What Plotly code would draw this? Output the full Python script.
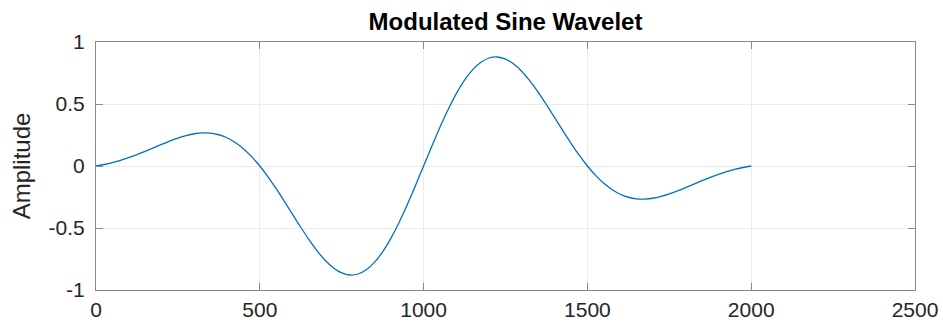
import plotly.graph_objects as go

# Sample positions and amplitudes
sample_x = [0, 25, 50, 75, 100, 125, 150, 175, 200, 225,
            250, 275, 300, 325, 350, 375, 400, 425, 450, 475,
            500, 525, 550, 575, 600, 625, 650, 675, 700, 725,
            750, 775, 800, 825, 850, 875, 900, 925, 950, 975,
            1000, 1025, 1050, 1075, 1100, 1125, 1150, 1175, 1200, 1225,
            1250, 1275, 1300, 1325, 1350, 1375, 1400, 1425, 1450, 1475,
            1500, 1525, 1550, 1575, 1600, 1625, 1650, 1675, 1700, 1725,
            1750, 1775, 1800, 1825, 1850, 1875, 1900, 1925, 1950, 1975, 2000]
amplitude = [0.0, 0.012, 0.028, 0.046, 0.068, 0.092, 0.118, 0.146, 0.174, 0.201,
             0.225, 0.245, 0.260, 0.267, 0.265, 0.252, 0.228, 0.190, 0.140, 0.076,
             0.0, -0.087, -0.183, -0.285, -0.390, -0.494, -0.594, -0.684, -0.762, -0.822,
             -0.862, -0.879, -0.871, -0.837, -0.777, -0.692, -0.584, -0.456, -0.313, -0.159,
             0.0, 0.159, 0.313, 0.456, 0.584, 0.692, 0.777, 0.837, 0.871, 0.879,
             0.862, 0.822, 0.762, 0.684, 0.594, 0.494, 0.390, 0.285, 0.183, 0.087,
             0.0, -0.076, -0.140, -0.190, -0.228, -0.252, -0.265, -0.267, -0.260, -0.245,
             -0.225, -0.201, -0.174, -0.146, -0.118, -0.092, -0.068, -0.046, -0.028, -0.012, 0.0]

x_tick_vals = [0, 500, 1000, 1500, 2000, 2500]
x_tick_text = ["0", "500", "1000", "1500", "2000", "2500"]
y_tick_vals = [-1, -0.5, 0, 0.5, 1]
y_tick_text = ["-1", "-0.5", "0", "0.5", "1"]

title_text = "Modulated Sine Wavelet"
y_label = "Amplitude"

FONT = "Liberation Sans, Arial, sans-serif"
AXIS_COLOR = "#8a8a8a"
TEXT_COLOR = "#262626"
GRID_COLOR = "#ebebeb"

fig = go.Figure()
fig.add_trace(go.Scatter(
    x=sample_x, y=amplitude, mode="lines",
    line=dict(color="#0072BD", width=1.3, shape="spline", smoothing=0.6),
    showlegend=False, hoverinfo="skip",
))

axis_common = dict(
    showline=True, linecolor=AXIS_COLOR, linewidth=1,
    mirror="ticks", ticks="inside", ticklen=7, tickcolor=AXIS_COLOR, tickwidth=1,
    showgrid=True, gridcolor=GRID_COLOR, gridwidth=1,
    zeroline=False,
    tickfont=dict(family=FONT, size=21, color=TEXT_COLOR),
)

fig.update_xaxes(range=[0, 2500], tickvals=x_tick_vals, ticktext=x_tick_text,
                 ticklabelstandoff=1, **axis_common)
fig.update_yaxes(range=[-1, 1], tickvals=y_tick_vals, ticktext=y_tick_text,
                 ticklabelstandoff=6,
                 title=dict(text=y_label, font=dict(family=FONT, size=24, color=TEXT_COLOR),
                            standoff=11),
                 **axis_common)

fig.update_layout(
    width=943, height=322,
    margin=dict(l=96, r=28, t=42, b=32, autoexpand=False),
    paper_bgcolor="white", plot_bgcolor="white",
    title=dict(text="<b>" + title_text + "</b>", x=0.5, xref="paper",
               y=1 - 22 / 322, yref="container", yanchor="middle", xanchor="center",
               font=dict(family=FONT, size=24, color="#000000")),
)

fig.write_html("out.html")
